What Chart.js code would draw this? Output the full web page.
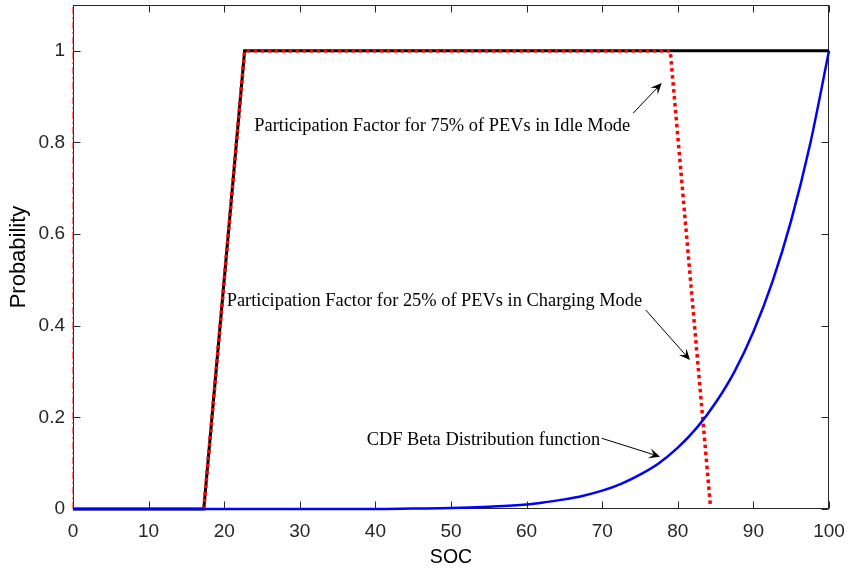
<!DOCTYPE html>
<html>
<head>
<meta charset="utf-8">
<script src="https://cdn.jsdelivr.net/npm/chart.js@4/dist/chart.umd.min.js"></script>
<style>
html,body{margin:0;padding:0;background:#fff;}
#wrap{width:848px;height:572px;}
</style>
</head>
<body>
<div id="wrap"><canvas id="c" width="848" height="572"></canvas></div>
<script>
// ---- data ----
const xTickValues = [0, 10, 20, 30, 40, 50, 60, 70, 80, 90, 100];
const yTickValues = [0, 0.2, 0.4, 0.6, 0.8, 1];

// Participation factor, 75% of PEVs in idle mode (black solid)
const idleX = [0, 17.3, 22.7, 100];
const idleY = [0, 0, 1, 1];

// Participation factor, 25% of PEVs in charging mode (red dotted)
const chargeX = [17.3, 22.7, 79.0, 84.3];
const chargeY = [0, 1, 1, 0.01];

// CDF of beta distribution (blue solid)
const cdfX = [0, 30, 40, 45, 50, 55, 60, 62.5, 65, 67.5, 70, 72.5, 75, 77.5, 80, 82.5, 85, 87.5, 90, 92.5, 95, 97.5, 100];
const cdfY = [0, 0, 0, 0.001, 0.002, 0.005, 0.01, 0.015, 0.021, 0.029, 0.04, 0.055, 0.075, 0.10, 0.134, 0.177, 0.232, 0.30, 0.387, 0.495, 0.63, 0.796, 1.0];

// vertical red dash-dot reference line at SOC = 0
const refX = [0, 0];
const refY = [0, 1.1];

// annotation texts and anchors (data coordinates)
const noteTexts = [
  'Participation Factor for 75% of PEVs in Idle Mode',
  'Participation Factor for 25% of PEVs in Charging Mode',
  'CDF Beta Distribution function'
];
const noteTextX = [23.98, 20.33, 38.85];
const noteTextY = [0.824, 0.443, 0.140];
const arrowFromX = [74.1, 75.75, 69.93];
const arrowFromY = [0.864, 0.4345, 0.1544];
const arrowToX = [77.87, 81.61, 77.65];
const arrowToY = [0.9295, 0.3253, 0.1142];

const zip = (xs, ys) => xs.map((x, i) => ({x: x, y: ys[i]}));

const AXIS = '#262626';
const FAMILY = '"Liberation Sans", Arial, Helvetica, sans-serif';
const TICKFONT = {family: FAMILY, size: 19};

const framePlugin = {
  id: 'frame',
  beforeDatasetsDraw(chart) {
    const {ctx, chartArea: a, scales: {x, y}} = chart;
    ctx.save();
    ctx.strokeStyle = AXIS;
    ctx.lineWidth = 1;
    const L = Math.round(a.left) + 0.5, R = Math.round(a.right) - 0.5;
    const T = Math.round(a.top) + 0.5, B = Math.round(a.bottom) - 0.5;
    ctx.strokeRect(L, T, R - L, B - T);
    const tl = 7;
    ctx.beginPath();
    xTickValues.forEach(v => {
      const px = Math.round(x.getPixelForValue(v)) + 0.5;
      ctx.moveTo(px, B); ctx.lineTo(px, B - tl);
      ctx.moveTo(px, T); ctx.lineTo(px, T + tl);
    });
    yTickValues.forEach(v => {
      const py = Math.round(y.getPixelForValue(v)) + 0.5;
      ctx.moveTo(L, py); ctx.lineTo(L + tl, py);
      ctx.moveTo(R, py); ctx.lineTo(R - tl, py);
    });
    ctx.stroke();
    ctx.restore();
  },
  afterDatasetsDraw(chart) {
    const {ctx, scales: {x, y}} = chart;
    ctx.save();
    ctx.fillStyle = '#000';
    ctx.strokeStyle = '#000';
    ctx.font = '18.4px "Liberation Serif", "Times New Roman", serif';
    ctx.textBaseline = 'alphabetic';
    ctx.textAlign = 'left';
    noteTexts.forEach((t, i) => {
      ctx.fillText(t, x.getPixelForValue(noteTextX[i]), y.getPixelForValue(noteTextY[i]));
    });
    for (let i = 0; i < arrowFromX.length; i++) {
      const x0 = x.getPixelForValue(arrowFromX[i]), y0 = y.getPixelForValue(arrowFromY[i]);
      const x1 = x.getPixelForValue(arrowToX[i]), y1 = y.getPixelForValue(arrowToY[i]);
      const dx = x1 - x0, dy = y1 - y0, len = Math.hypot(dx, dy);
      const ux = dx / len, uy = dy / len, nx = -uy, ny = ux;
      const HL = 11, HW = 5;
      ctx.lineWidth = 1;
      ctx.beginPath();
      ctx.moveTo(x0, y0);
      ctx.lineTo(x1 - ux * HL * 0.6, y1 - uy * HL * 0.6);
      ctx.stroke();
      ctx.beginPath();
      ctx.moveTo(x1, y1);
      ctx.lineTo(x1 - ux * HL + nx * HW, y1 - uy * HL + ny * HW);
      ctx.lineTo(x1 - ux * HL * 0.6, y1 - uy * HL * 0.6);
      ctx.lineTo(x1 - ux * HL - nx * HW, y1 - uy * HL - ny * HW);
      ctx.closePath();
      ctx.fill();
    }
    ctx.restore();
  }
};

new Chart(document.getElementById('c'), {
  type: 'scatter',
  data: {
    datasets: [
      {
        label: 'ref',
        data: zip(refX, refY),
        showLine: true, borderColor: '#ff0000', borderWidth: 1,
        borderDash: [7, 3, 2, 3], pointRadius: 0, clip: false, order: 0
      },
      {
        label: 'CDF',
        data: zip(cdfX, cdfY),
        showLine: true, borderColor: '#0000ff', borderWidth: 2.5,
        cubicInterpolationMode: 'monotone', pointRadius: 0, clip: false, order: 1
      },
      {
        label: 'charging',
        data: zip(chargeX, chargeY),
        showLine: true, borderColor: '#ff0000', borderWidth: 3.5,
        borderDash: [3.5, 3.5], pointRadius: 0, clip: false, order: 2,
        borderCapStyle: 'butt'
      },
      {
        label: 'idle',
        data: zip(idleX, idleY),
        showLine: true, borderColor: '#000000', borderWidth: 3,
        pointRadius: 0, clip: false, order: 3
      }
    ]
  },
  options: {
    responsive: false,
    animation: false,
    devicePixelRatio: 1,
    layout: {padding: {top: 5, right: 19, left: 0, bottom: 0}},
    plugins: {legend: {display: false}, tooltip: {enabled: false}},
    scales: {
      x: {
        type: 'linear', min: 0, max: 100,
        afterBuildTicks: s => { s.ticks = xTickValues.map(v => ({value: v})); },
        afterFit: s => { s.height = 63; s.paddingLeft = 0; s.paddingRight = 0; },
        grid: {display: false, drawTicks: false},
        border: {display: false},
        ticks: {font: TICKFONT, color: AXIS, padding: 11, maxRotation: 0, autoSkip: false,
                callback: v => String(v)},
        title: {display: true, text: 'SOC', font: {family: FAMILY, size: 19.5}, color: '#000', padding: {top: 0, bottom: 3}}
      },
      y: {
        type: 'linear', min: 0, max: 1.1,
        afterBuildTicks: s => { s.ticks = yTickValues.map(v => ({value: v})); },
        afterFit: s => { s.width = 73; s.paddingTop = 0; s.paddingBottom = 0; },
        grid: {display: false, drawTicks: false},
        border: {display: false},
        ticks: {font: TICKFONT, color: AXIS, padding: 8, autoSkip: false,
                callback: v => String(v)},
        title: {display: true, text: 'Probability', font: {family: FAMILY, size: 22}, color: '#000', padding: {top: 6, bottom: 0}}
      }
    }
  },
  plugins: [framePlugin]
});
</script>
</body>
</html>
